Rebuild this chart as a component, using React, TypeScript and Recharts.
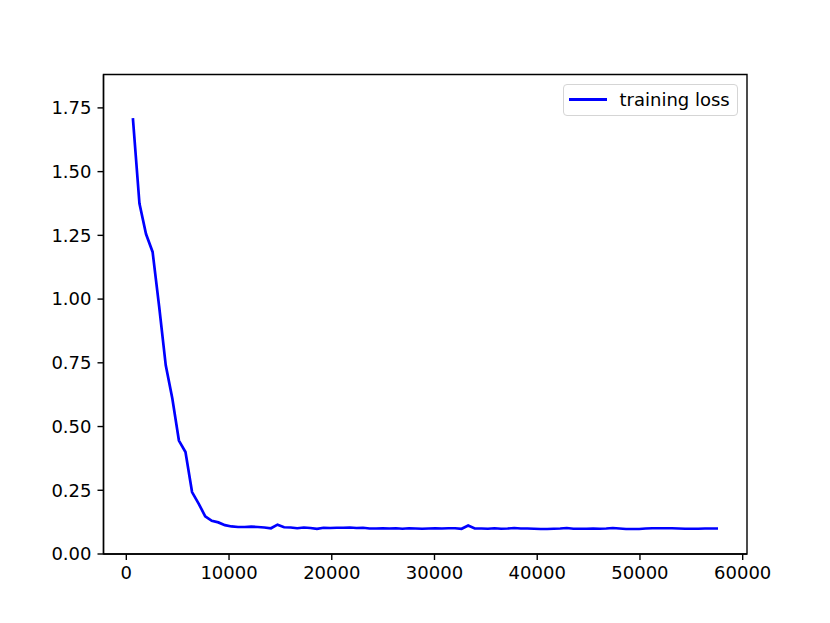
import { LineChart, Line, XAxis, YAxis, ReferenceArea } from 'recharts';

const steps = [
  640, 1280, 1920, 2560, 3200, 3840, 4480, 5120, 5760, 6400,
  7040, 7680, 8320, 8960, 9600, 10240, 10880, 11520, 12160, 12800,
  13440, 14080, 14720, 15360, 16000, 16640, 17280, 17920, 18560, 19200,
  19840, 20480, 21120, 21760, 22400, 23040, 23680, 24320, 24960, 25600,
  26240, 26880, 27520, 28160, 28800, 29440, 30080, 30720, 31360, 32000,
  32640, 33280, 33920, 34560, 35200, 35840, 36480, 37120, 37760, 38400,
  39040, 39680, 40320, 40960, 41600, 42240, 42880, 43520, 44160, 44800,
  45440, 46080, 46720, 47360, 48000, 48640, 49280, 49920, 50560, 51200,
  51840, 52480, 53120, 53760, 54400, 55040, 55680, 56320, 56960, 57600,
];

const trainingLoss = [
  1.71, 1.375, 1.255, 1.185, 0.97, 0.74, 0.61, 0.445, 0.4, 0.243,
  0.198, 0.148, 0.13, 0.124, 0.113, 0.108, 0.106, 0.106, 0.107, 0.106,
  0.104, 0.101, 0.115, 0.105, 0.104, 0.101, 0.104, 0.102, 0.099, 0.103,
  0.102, 0.103, 0.103, 0.104, 0.102, 0.103, 0.1, 0.1, 0.101, 0.1,
  0.101, 0.099, 0.101, 0.1, 0.099, 0.1, 0.101, 0.1, 0.101, 0.101,
  0.099, 0.112, 0.1, 0.1, 0.099, 0.101, 0.099, 0.1, 0.102, 0.1,
  0.1, 0.099, 0.098, 0.098, 0.099, 0.1, 0.102, 0.099, 0.099, 0.099,
  0.1, 0.099, 0.1, 0.102, 0.1, 0.098, 0.098, 0.098, 0.1, 0.101,
  0.101, 0.101, 0.101, 0.1, 0.099, 0.099, 0.099, 0.1, 0.1, 0.1,
];

const xTicks = [0, 10000, 20000, 30000, 40000, 50000, 60000];
const yTicks = [0, 0.25, 0.5, 0.75, 1.0, 1.25, 1.5, 1.75];

const X_DOMAIN: [number, number] = [-2220, 60420];
const Y_DOMAIN: [number, number] = [0, 1.881];

const data = steps.map((step, i) => ({ step, loss: trainingLoss[i] }));

const FONT = '"DejaVu Sans", sans-serif';
const tickStyle = { fontSize: 18, fill: '#000', fontFamily: FONT };
const axisLine = { stroke: '#000', strokeWidth: 1.4 };

function LossLegend() {
  return (
    <div style={{
      position: 'absolute',
      left: 562.5,
      top: 83.5,
      width: 175,
      height: 32,
      boxSizing: 'border-box',
      border: '1px solid #d5d5d5',
      borderRadius: 4,
      background: '#fff',
      display: 'flex',
      alignItems: 'center',
      fontFamily: FONT,
      fontSize: 18,
      color: '#000',
    }}>
      <div style={{ width: 38, height: 2.7, background: '#0000ff', marginLeft: 5 }} />
      <span style={{ marginLeft: 13 }}>training loss</span>
    </div>
  );
}

export default function App() {
  return (
    <div style={{ position: 'absolute', left: 0, top: 0, width: 830, height: 623, background: '#fff' }}>
      <LineChart
        width={830}
        height={623}
        data={data}
        margin={{ top: 74.5, right: 83, bottom: 39, left: 43.5 }}
      >
        <XAxis
          dataKey="step"
          type="number"
          domain={X_DOMAIN}
          allowDataOverflow
          ticks={xTicks}
          tick={tickStyle}
          tickSize={6}
          tickMargin={6}
          axisLine={axisLine}
          tickLine={axisLine}
          height={30}
        />
        <YAxis
          type="number"
          domain={Y_DOMAIN}
          allowDataOverflow
          ticks={yTicks}
          tickFormatter={(v: number) => v.toFixed(2)}
          tick={tickStyle}
          tickSize={6}
          tickMargin={6}
          axisLine={axisLine}
          tickLine={axisLine}
          width={60}
        />
        <ReferenceArea
          x1={X_DOMAIN[0]}
          x2={X_DOMAIN[1]}
          y1={Y_DOMAIN[0]}
          y2={Y_DOMAIN[1]}
          fill="none"
          fillOpacity={0}
          stroke="#000"
          strokeWidth={1.4}
          strokeOpacity={1}
        />
        <Line
          type="linear"
          dataKey="loss"
          name="training loss"
          stroke="#0000ff"
          strokeWidth={2.7}
          dot={false}
          activeDot={false}
          isAnimationActive={false}
        />
      </LineChart>
      <LossLegend />
    </div>
  );
}
